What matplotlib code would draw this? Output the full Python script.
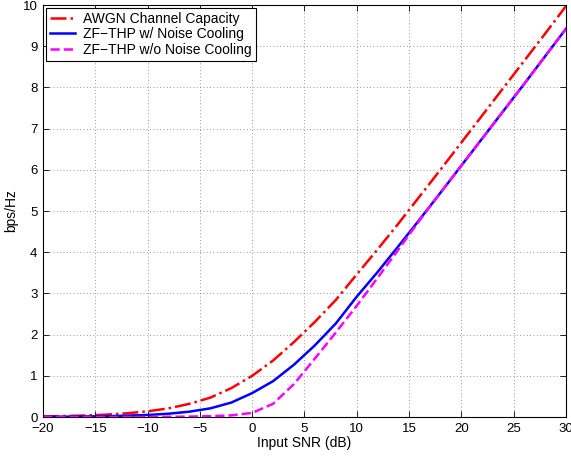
import numpy as np
import matplotlib
matplotlib.use("Agg")
import matplotlib.pyplot as plt

plt.rcParams["font.family"] = ["Liberation Sans", "DejaVu Sans"]

# Input SNR grid (dB)
snr_db = [-20, -18, -16, -14, -12, -10, -8, -6, -4, -2, 0, 2, 4,
          6, 8, 10, 12, 14, 16, 18, 20, 22, 24, 26, 28, 30]

# values (bps/Hz)
awgn_capacity = [0.014, 0.023, 0.036, 0.057, 0.090, 0.138, 0.21, 0.32, 0.47,
                 0.70, 1.00, 1.37, 1.82, 2.31, 2.84, 3.46, 4.07, 4.70, 5.35,
                 6.00, 6.66, 7.32, 7.98, 8.64, 9.30, 9.97]
thp_cooling = [0.005, 0.008, 0.013, 0.020, 0.032, 0.050, 0.080, 0.13, 0.21,
               0.35, 0.58, 0.87, 1.27, 1.74, 2.27, 2.92, 3.52, 4.15, 4.79,
               5.44, 6.10, 6.76, 7.42, 8.08, 8.75, 9.42]
thp_no_cooling = [0.0, 0.0, 0.0, 0.0, 0.0, 0.0, 0.005, 0.01, 0.02,
                  0.04, 0.10, 0.32, 0.80, 1.42, 2.05, 2.70, 3.38, 4.07, 4.77,
                  5.44, 6.10, 6.76, 7.42, 8.08, 8.75, 9.42]

fig = plt.figure(figsize=(5.71, 4.57), dpi=100)
ax = fig.add_axes([0.0753, 0.0875, 0.9157, 0.9015])

ax.plot(snr_db, awgn_capacity, color="red", linestyle="-.", lw=1.8,
        label="AWGN Channel Capacity")
ax.plot(snr_db, thp_cooling, color="blue", linestyle="-", lw=1.8,
        label="ZF\u2212THP w/ Noise Cooling")
ax.plot(snr_db, thp_no_cooling, color="magenta", linestyle="--", lw=1.8,
        label="ZF\u2212THP w/o Noise Cooling")

ax.set_xlim(-20, 30)
ax.set_ylim(0, 10)
ax.set_xticks(np.arange(-20, 31, 5))
ax.set_yticks(np.arange(0, 11, 1))
ax.set_xticklabels([str(t).replace("-", "\u2212") for t in range(-20, 31, 5)])
ax.tick_params(direction="in", top=True, right=True, labelsize=9.5,
               length=4, width=0.6)
ax.tick_params(axis="x", pad=4)
ax.tick_params(axis="y", pad=4)
ax.grid(True, linestyle=(0, (1, 3)), color="#777777", lw=0.6)
for sp in ax.spines.values():
    sp.set_linewidth(0.8)

ax.set_xlabel("Input SNR (dB)", fontsize=10, labelpad=1)
ax.set_ylabel("bps/Hz", fontsize=10, labelpad=3)

leg = ax.legend(loc="upper left", fontsize=10, frameon=True, fancybox=False,
                borderpad=0.3, labelspacing=0.1, handlelength=1.8,
                handletextpad=0.6, borderaxespad=0.2)
leg.get_frame().set_edgecolor("black")
leg.get_frame().set_linewidth(0.8)
leg.get_frame().set_alpha(1)

fig.savefig("out.png", dpi=100)
